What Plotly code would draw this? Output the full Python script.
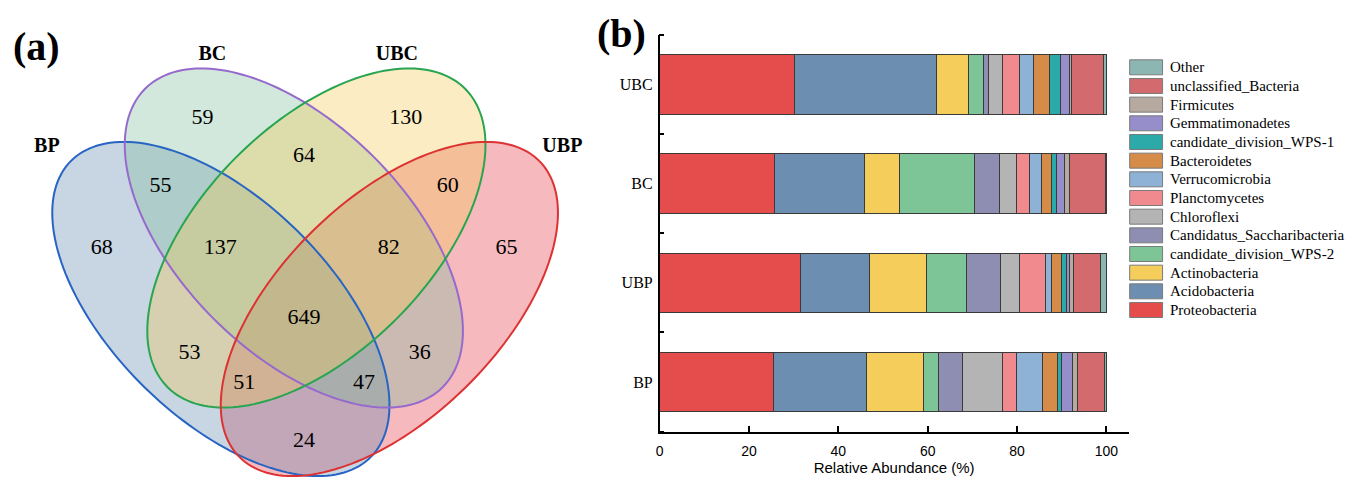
import numpy as np
import plotly.graph_objects as go

# ---------------- Panel (a): four-set Venn of shared OTUs ----------------
venn_sets = ["BP", "BC", "UBC", "UBP"]
region_counts = [68, 59, 130, 65, 55, 64, 60, 137, 82, 649, 53, 36, 51, 47, 24]

# label anchor for each region (canvas pixels, y downward)
region_xy = [(98, 248), (199, 118), (403, 118), (504, 248), (157, 186),
             (301, 156), (445, 186), (217, 248), (386, 248), (301, 318),
             (186, 353), (417, 353), (241, 383), (361, 383), (301, 441)]

# ellipse geometry: centre, semi-axes, tilt (deg, screen coordinates)
ellipse_geom = {
    "BP":  dict(cx=217.5, cy=309.0, a=211.0, b=109.5, tilt=44.4),
    "BC":  dict(cx=290.7, cy=238.0, a=211.0, b=114.0, tilt=45.0),
    "UBC": dict(cx=313.3, cy=238.0, a=211.0, b=114.0, tilt=-45.0),
    "UBP": dict(cx=386.5, cy=309.0, a=211.0, b=109.5, tilt=-44.4),
}
FILL_ALPHA = 0.35
ellipse_fill = {
    "BP": (98, 135, 172),
    "BC": (126, 189, 155),
    "UBC": (244, 201, 84),
    "UBP": (226, 55, 69),
}
ellipse_edge = {
    "BP": "rgb(40,100,195)",
    "BC": "rgb(150,105,205)",
    "UBC": "rgb(40,165,80)",
    "UBP": "rgb(220,50,50)",
}
fill_order = ["UBP", "BP", "BC", "UBC"]
set_label_xy = {"BP": (43, 147), "BC": (209, 55), "UBC": (394, 55), "UBP": (560, 147)}

# ---------------- Panel (b): phylum-level relative abundance ----------------
samples = ["BP", "UBP", "BC", "UBC"]
phyla = ["Proteobacteria", "Acidobacteria", "Actinobacteria", "candidate_division_WPS-2",
         "Candidatus_Saccharibacteria", "Chloroflexi", "Planctomycetes", "Verrucomicrobia",
         "Bacteroidetes", "candidate_division_WPS-1", "Gemmatimonadetes", "Firmicutes",
         "unclassified_Bacteria", "Other"]
abund_bp = [25.5, 20.9, 12.7, 3.3, 5.3, 9.0, 3.1, 5.8, 3.5, 0.9, 2.4, 1.1, 6.1, 0.4]
abund_ubp = [31.5, 15.4, 12.9, 9.0, 7.5, 4.2, 5.8, 1.5, 2.2, 1.1, 0.7, 0.8, 6.0, 1.4]
abund_bc = [25.6, 20.3, 7.8, 16.7, 5.7, 3.8, 2.8, 2.7, 2.3, 1.2, 1.7, 1.1, 8.2, 0.1]
abund_ubc = [30.2, 31.8, 7.1, 3.5, 1.1, 3.1, 3.7, 3.1, 3.6, 2.5, 2.1, 0.5, 7.0, 0.7]
phylum_colors = ["#E54C4C", "#6C8EB0", "#F4CD5A", "#7DC496", "#8E8EB2", "#B4B4B4",
                 "#F08A8E", "#8EB2D6", "#D48C48", "#2CAAAA", "#968ECA", "#B6AAA0",
                 "#D26A6E", "#8CB6B2"]
x_ticks = [0, 20, 40, 60, 80, 100]

W, H = 1357, 479
SERIF = "Liberation Serif, Times New Roman, serif"
SANS = "Liberation Sans, Arial, sans-serif"

fig = go.Figure()


def ellipse_path(cx, cy, a, b, tilt, n=180):
    t = np.linspace(0, 2 * np.pi, n, endpoint=False)
    th = np.radians(tilt)
    xs = cx + a * np.cos(t) * np.cos(th) - b * np.sin(t) * np.sin(th)
    ys = cy + a * np.cos(t) * np.sin(th) + b * np.sin(t) * np.cos(th)
    return "M " + " L ".join(f"{x:.2f},{y:.2f}" for x, y in zip(xs, ys)) + " Z"


shapes = []
# translucent fills first, then outlines on top of all fills
for name in fill_order:
    r, g, b = ellipse_fill[name]
    shapes.append(dict(type="path", path=ellipse_path(**ellipse_geom[name]),
                       xref="x", yref="y", fillcolor=f"rgba({r},{g},{b},{FILL_ALPHA})",
                       line=dict(width=0), layer="below"))
for name in venn_sets:
    shapes.append(dict(type="path", path=ellipse_path(**ellipse_geom[name]),
                       xref="x", yref="y", fillcolor="rgba(0,0,0,0)",
                       line=dict(color=ellipse_edge[name], width=2), layer="below"))

fig.add_trace(go.Scatter(
    x=[p[0] for p in region_xy], y=[p[1] for p in region_xy],
    text=[str(v) for v in region_counts], mode="text",
    textfont=dict(family=SERIF, size=22, color="black"),
    xaxis="x", yaxis="y", showlegend=False, hoverinfo="skip"))

fig.add_trace(go.Scatter(
    x=[set_label_xy[s][0] for s in venn_sets], y=[set_label_xy[s][1] for s in venn_sets],
    text=[f"<b>{s}</b>" for s in venn_sets], mode="text",
    textfont=dict(family=SERIF, size=20, color="black"),
    xaxis="x", yaxis="y", showlegend=False, hoverinfo="skip"))

# stacked horizontal bars
table = np.array([abund_bp, abund_ubp, abund_bc, abund_ubc])
for j, ph in enumerate(phyla):
    fig.add_trace(go.Bar(
        y=list(range(len(samples))), x=table[:, j], orientation="h",
        name=ph, marker=dict(color=phylum_colors[j], line=dict(color="#3a3a3a", width=1)),
        width=0.6, xaxis="x2", yaxis="y2", showlegend=False))

# legend drawn as swatches + labels (top entry = last phylum)
annotations = []
leg_x0, leg_x1, leg_text_x = 1129, 1162, 1167
leg_y0, leg_step, sw_h = 67.3, 18.67, 15
for i, j in enumerate(range(len(phyla) - 1, -1, -1)):
    yc = leg_y0 + i * leg_step
    shapes.append(dict(type="rect", xref="paper", yref="paper",
                       x0=leg_x0 / W, x1=leg_x1 / W,
                       y0=1 - (yc + sw_h / 2) / H, y1=1 - (yc - sw_h / 2) / H,
                       fillcolor=phylum_colors[j], line=dict(color="#7a7a7a", width=1)))
    annotations.append(dict(x=leg_text_x / W, y=1 - yc / H, xref="paper", yref="paper",
                            text=phyla[j], showarrow=False, xanchor="left", yanchor="middle",
                            font=dict(family=SERIF, size=15, color="black")))

annotations.append(dict(x=33 / W, y=1 - 46 / H, xref="paper", yref="paper", text="<b>(a)</b>",
                        showarrow=False, xanchor="center", yanchor="middle",
                        font=dict(family=SERIF, size=40, color="black")))
annotations.append(dict(x=619 / W, y=1 - 33 / H, xref="paper", yref="paper", text="<b>(b)</b>",
                        showarrow=False, xanchor="center", yanchor="middle",
                        font=dict(family=SERIF, size=40, color="black")))

bar_left, bar_right = 657.6, 1128.0
bar_top, bar_bottom = 35.0, 431.5

fig.update_layout(
    width=W, height=H, margin=dict(l=0, r=0, t=0, b=0),
    paper_bgcolor="white", plot_bgcolor="white",
    barmode="stack", bargap=0.4,
    shapes=shapes, annotations=annotations,
    xaxis=dict(domain=[0, 600 / W], range=[0, 600], visible=False, fixedrange=True),
    yaxis=dict(domain=[0, 1], range=[H, 0], visible=False, fixedrange=True, anchor="x"),
    xaxis2=dict(domain=[bar_left / W, bar_right / W], range=[0, 105], anchor="y2",
                tickmode="array", tickvals=x_ticks, ticktext=[str(v) for v in x_ticks],
                ticks="inside", ticklen=6, tickwidth=1.5, tickcolor="black",
                ticklabelstandoff=6,
                showline=True, linecolor="black", linewidth=1.5, showgrid=False, zeroline=False,
                tickfont=dict(family=SANS, size=14, color="black"),
                title=dict(text="Relative Abundance (%)", standoff=2,
                           font=dict(family=SANS, size=15, color="black"))),
    yaxis2=dict(domain=[1 - bar_bottom / H, 1 - bar_top / H], range=[-0.5, 3.5], anchor="x2",
                tickmode="array", tickvals=list(range(len(samples))), ticktext=samples,
                ticks="", showline=True, linecolor="black", linewidth=1.5,
                ticklabelstandoff=2,
                showgrid=False, zeroline=False,
                minor=dict(tickmode="array", tickvals=[-0.5, 0.5, 1.5, 2.5, 3.5],
                           ticks="inside", ticklen=5, tickwidth=1.5, tickcolor="black"),
                tickfont=dict(family=SERIF, size=16, color="black")),
)

fig.write_html("out.html")
